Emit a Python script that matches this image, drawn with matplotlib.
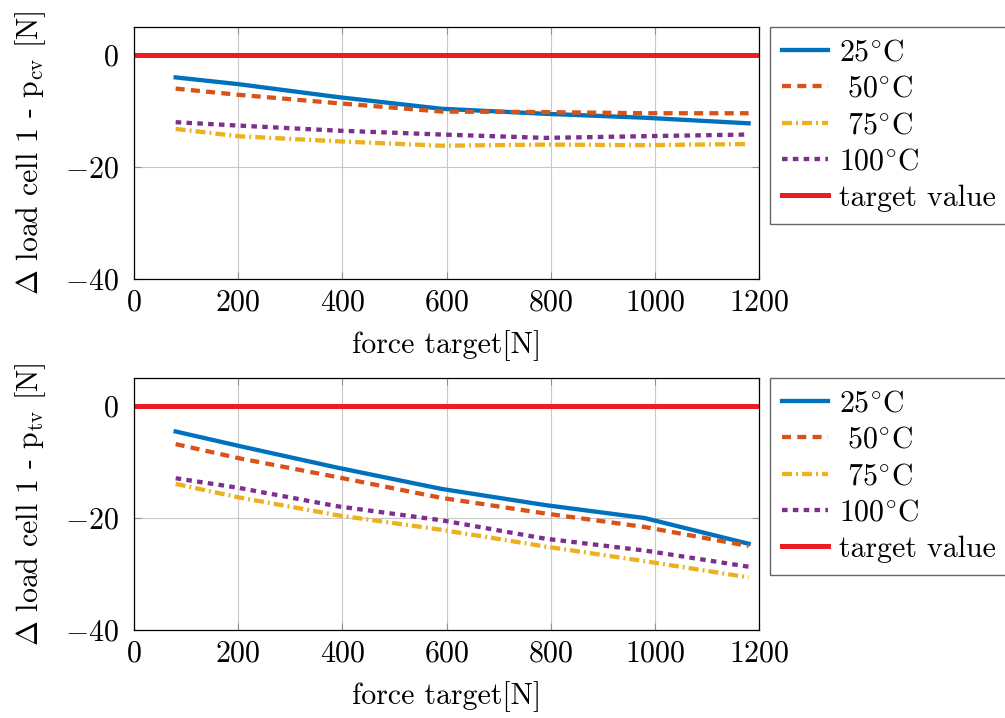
import matplotlib
matplotlib.use("Agg")
import matplotlib.pyplot as plt

plt.rcParams['font.family'] = ['cmr10', 'DejaVu Serif']
plt.rcParams['mathtext.fontset'] = 'cm'
plt.rcParams['axes.formatter.use_mathtext'] = True
plt.rcParams['lines.scale_dashes'] = False

# Data
force = [80, 200, 390, 590, 790, 980, 1180]

cv_25 = [-4.0, -5.2, -7.5, -9.6, -10.5, -11.2, -12.2]
cv_50 = [-6.0, -7.1, -8.6, -10.1, -10.2, -10.4, -10.4]
cv_75 = [-13.2, -14.5, -15.4, -16.2, -16.0, -16.1, -15.9]
cv_100 = [-12.0, -12.6, -13.5, -14.2, -14.8, -14.5, -14.2]

tv_25 = [-4.55, -7.1, -11.0, -14.8, -17.7, -20.0, -24.6]
tv_50 = [-6.8, -9.3, -12.7, -16.4, -19.2, -21.6, -25.0]
tv_75 = [-13.9, -16.3, -19.5, -22.1, -25.1, -27.7, -30.6]
tv_100 = [-12.9, -14.6, -17.9, -20.4, -23.7, -25.8, -28.7]

target_x = [0, 1200]
target_y = [0, 0]

labels = ['$25^{\\circ}\\mathrm{C}$', '$\\ 50^{\\circ}\\mathrm{C}$',
          '$\\ 75^{\\circ}\\mathrm{C}$', '$100^{\\circ}\\mathrm{C}$', 'target value']
xticks = [0, 200, 400, 600, 800, 1000, 1200]
yticks = [-40, -20, 0]
xlabel = 'force target[N]'
ylabels = ['$\\Delta$ load cell 1 - p$_{\\mathrm{cv}}$ [N]',
           '$\\Delta$ load cell 1 - p$_{\\mathrm{tv}}$ [N]']

colors = ['#0072BD', '#D95319', '#EDB120', '#7E2F8E', '#ED1C24']
styles = ['-', (0, (6.5, 4.5)), (0, (7.2, 2.9, 1.4, 2.9)), (0, (4.0, 3.8)), '-']

W, H = 1005, 718
fig = plt.figure(figsize=(W / 100, H / 100), dpi=100)

def px_axes(left, top, right, bottom):
    return fig.add_axes([left / W, 1 - bottom / H, (right - left) / W, (bottom - top) / H])

ax1 = px_axes(134, 27, 759, 279)
ax2 = px_axes(134, 378, 759, 630)

FS = 21.5
for ax, series, ylab in [(ax1, [cv_25, cv_50, cv_75, cv_100], ylabels[0]),
                         (ax2, [tv_25, tv_50, tv_75, tv_100], ylabels[1])]:
    for i, s in enumerate(series):
        ax.plot(force, s, color=colors[i], linestyle=styles[i], linewidth=3.1,
                dash_capstyle='butt', label=labels[i])
    ax.plot(target_x, target_y, color=colors[4], linewidth=3.6, label=labels[4])
    ax.set_xlim(0, 1200)
    ax.set_ylim(-40, 5)
    ax.set_xticks(xticks)
    ax.set_yticks(yticks)
    ax.grid(True, color='#c8c8c8', linewidth=0.8)
    ax.set_axisbelow(True)
    ax.tick_params(direction='in', top=True, right=True, length=5, width=0.8,
                   color='#909090', labelsize=FS)
    ax.tick_params(axis='y', pad=11)
    ax.tick_params(axis='x', pad=7)
    for sp in ax.spines.values():
        sp.set_linewidth(0.9)
        sp.set_color('black')
    ax.set_xlabel(xlabel, fontsize=FS, labelpad=10)
    ax.set_ylabel(ylab, fontsize=FS, labelpad=12)
    leg = ax.legend(loc='upper left', bbox_to_anchor=(1.018, 1.0), borderaxespad=0,
                    fontsize=FS, frameon=True, fancybox=False, edgecolor='#404040',
                    handlelength=1.55, handletextpad=0.35, borderpad=0.4,
                    labelspacing=0.3)
    leg.get_frame().set_linewidth(1.0)

fig.savefig('out.png', dpi=100)
